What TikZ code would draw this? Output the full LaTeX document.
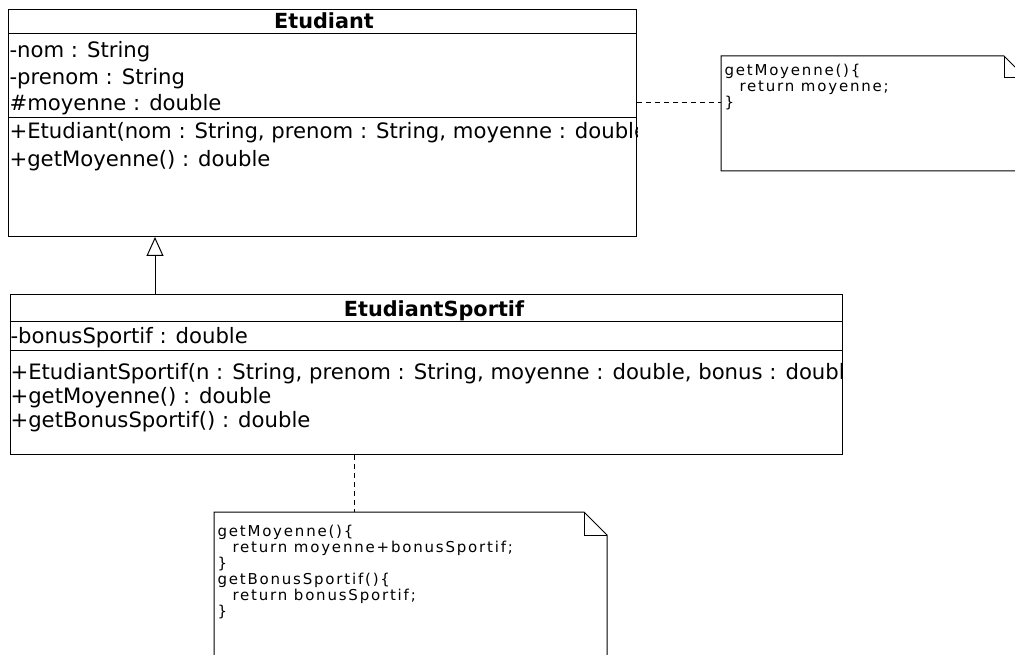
\documentclass[tikz,border=0pt]{standalone}
\usepackage{fontspec}
\setmainfont{DejaVu Sans}
\newfontfamily\notefont[LetterSpace=12]{DejaVu Sans}
\usetikzlibrary{arrows.meta,calc}
\begin{document}
\begin{tikzpicture}[x=1pt,y=-1pt,line width=1pt,
  umlbox/.style={draw=black,line width=1pt,anchor=north west,inner sep=0pt},
  member/.style={anchor=base west,inner sep=0pt,font=\fontsize{21.2}{24}\selectfont},
  umltitle/.style={anchor=base,inner sep=0pt,font=\bfseries\fontsize{20.8}{24}\selectfont},
  noteframe/.style={anchor=north west,inner sep=0pt},
  notetext/.style={anchor=base west,inner sep=0pt,font=\notefont\fontsize{15}{16}\selectfont},
  dashconn/.style={dash pattern=on 5pt off 4pt,line width=1pt}]
\useasboundingbox (0,0) rectangle (1015,655);
\clip (0,0) rectangle (1015,655);
\fill[white] (0,0) rectangle (1015,655);

% ---- Etudiant ----
\node[umlbox,minimum width=628pt,minimum height=227pt] (etu) at (8,9) {};
\draw ([yshift=-25pt]etu.north west) -- ([yshift=-25pt]etu.north east);
\draw ([yshift=-109pt]etu.north west) -- ([yshift=-109pt]etu.north east);
\node[umltitle] (etuT) at (324,28.5) {Etudiant};
\begin{scope}
\clip (etu.north west) rectangle (etu.south east);
\node[member] (e1) at (9,58) {-nom : String};
\node[member] (e2) at (9,85) {-prenom : String};
\node[member] (e3) at (9,111) {\#moyenne : double};
\node[member] (e4) at (9,139) {+Etudiant(nom : String, prenom : String, moyenne : double)};
\node[member] (e5) at (9,167) {+getMoyenne() : double};
\end{scope}

% ---- EtudiantSportif ----
\node[umlbox,minimum width=832pt,minimum height=160pt] (es) at (10,294) {};
\draw ([yshift=-27pt]es.north west) -- ([yshift=-27pt]es.north east);
\draw ([yshift=-56pt]es.north west) -- ([yshift=-56pt]es.north east);
\node[umltitle] (esT) at (434,316.5) {EtudiantSportif};
\begin{scope}
\clip (es.north west) rectangle (es.south east);
\node[member] (s1) at (10,343) {-bonusSportif : double};
\node[member] (s2) at (10,379) {+EtudiantSportif(n : String, prenom : String, moyenne : double, bonus : double)};
\node[member] (s3) at (10,403) {+getMoyenne() : double};
\node[member] (s4) at (10,427) {+getBonusSportif() : double};
\end{scope}

% ---- inheritance ----
\draw[-{Triangle[open,length=19pt,width=17pt]}] (es.north -| 155,0) -- (etu.south -| 155,0);

% ---- note 1 ----
\node[noteframe,minimum width=304pt,minimum height=114pt] (n1) at (721,56) {};
\draw (n1.north west) -- ([xshift=-22pt]n1.north east) -- ([yshift=-22pt]n1.north east)
      -- (n1.south east) -- (n1.south west) -- cycle;
\draw ([xshift=-22pt]n1.north east) |- ([yshift=-22pt]n1.north east);
\node[notetext] (n1a) at (724,76) {getMoyenne()\{};
\node[notetext] (n1b) at (739,92) {return moyenne;};
\node[notetext] (n1c) at (724,108) {\}};
\coordinate (p1) at ($(n1.north west)!0.405!(n1.south west)$);
\draw[dashconn] (etu.east |- p1) -- (p1);

% ---- note 2 ----
\node[noteframe,minimum width=392pt,minimum height=190pt] (n2) at (214,512) {};
\draw (n2.north west) -- ([xshift=-23pt]n2.north east) -- ([yshift=-23pt]n2.north east)
      -- (n2.south east) -- (n2.south west) -- cycle;
\draw ([xshift=-23pt]n2.north east) |- ([yshift=-23pt]n2.north east);
\node[notetext] (n2a) at (217,536) {getMoyenne()\{};
\node[notetext] (n2b) at (232,552) {return moyenne+bonusSportif;};
\node[notetext] (n2c) at (217,568) {\}};
\node[notetext] (n2d) at (217,584) {getBonusSportif()\{};
\node[notetext] (n2e) at (232,600) {return bonusSportif;};
\node[notetext] (n2f) at (217,616) {\}};
\draw[dashconn] (es.south -| 354,0) -- (n2.north -| 354,0);
\end{tikzpicture}
\end{document}
